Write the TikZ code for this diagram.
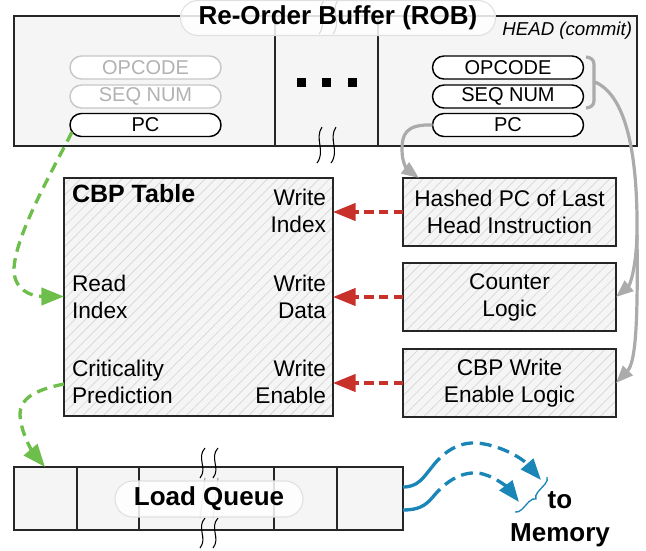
\documentclass[tikz,border=0pt]{standalone}
\usepackage{fontspec}
\setmainfont{Liberation Sans}
\usetikzlibrary{arrows.meta,patterns.meta,decorations.pathreplacing}
\definecolor{boxfill}{HTML}{F5F5F5}
\definecolor{hatchc}{HTML}{D6D6D6}
\definecolor{redc}{HTML}{C8302A}
\definecolor{greenc}{HTML}{6DBE4B}
\definecolor{bluec}{HTML}{1A86B8}
\definecolor{grayc}{HTML}{ABABAB}
\begin{document}
\begin{tikzpicture}[x=0.75pt,y=-0.75pt,
  every node/.style={inner sep=0pt, outer sep=0pt},
  frame/.style={draw=black!85, line width=1.1pt},
  hbox/.style={frame, preaction={fill=boxfill}, pattern={Lines[angle=45,distance=5.5pt,line width=0.5pt]}, pattern color=hatchc, rectangle, anchor=north west},
  field/.style={draw=black, line width=1.1pt, fill=white, rounded corners=8.6pt, minimum width=113.25pt, minimum height=17.25pt, font=\fontsize{15}{15}\selectfont},
  ghost/.style={field, draw=black!22, text=black!30},
  tag/.style={fill=white, fill opacity=0.85, text opacity=1, draw=black!12, line width=0.8pt, font=\bfseries\fontsize{19.5}{20}\selectfont},
  lbl/.style={font=\fontsize{17}{20.25}\selectfont},
  brk/.style={black, line width=0.8pt},
  redarr/.style={redc, line width=2.5pt, dash pattern=on 7pt off 4pt, -{Triangle[length=17pt,width=13pt]}},
  greenarr/.style={greenc, line width=2.5pt, dash pattern=on 8pt off 5pt, -{Triangle[length=17pt,width=13pt]}},
  grayarr/.style={grayc, line width=2.4pt, -{Triangle[length=13pt,width=10pt]}},
  bluesolid/.style={bluec, line width=2.5pt},
  bluearr/.style={bluec, line width=2.5pt, dash pattern=on 9pt off 5pt, -{Triangle[length=16pt,width=12pt]}}
]
\useasboundingbox (0,0) rectangle (646,550);

% ---------- ROB ----------
\node[frame, fill=boxfill, anchor=north west, minimum width=467.25pt, minimum height=97.5pt] (rob) at (14,16) {};
\draw[frame] (275,16) -- (275,146);
\draw[frame] (378,16) -- (378,146);
% break marks
\draw[brk] (322,127) .. controls (314,139) and (326,151) .. (317,163);
\draw[brk] (336,127) .. controls (328,139) and (340,151) .. (331,163);
\draw[brk] (324,0) .. controls (316,11) and (328,22) .. (319,34);
\draw[brk] (338,0) .. controls (330,11) and (342,22) .. (333,34);

\node[tag, minimum width=236.25pt, minimum height=26.25pt, rounded corners=13pt] (robt) at (338,18) {Re-Order Buffer (ROB)};
\node[anchor=east, font=\itshape\fontsize{14}{14}\selectfont] (head) at (632,31) {HEAD (commit)};

\node[ghost] (op1) at (145.5,67.5) {OPCODE};
\node[ghost] (sq1) at (145.5,96.5) {SEQ NUM};
\node[field] (pc1) at (145.5,125) {PC};
\node[field] (op2) at (508,67.5) {OPCODE};
\node[field] (sq2) at (508,96.5) {SEQ NUM};
\node[field] (pc2) at (508,125) {PC};

\fill (296.5,77.5) rectangle +(9,9);
\fill (321.5,77.5) rectangle +(9,9);
\fill (347.5,77.5) rectangle +(9,9);

% gray bracket
\draw[grayc, line width=2.4pt] (586,57) to[out=0,in=90] (594,64) -- (594,101) to[out=-90,in=0] (586,108);
\coordinate (bt) at (595,82);

% ---------- CBP table ----------
\node[hbox, minimum width=201.75pt, minimum height=178.5pt] (cbp) at (64,178) {};
\node[font=\bfseries\fontsize{18.75}{20}\selectfont, anchor=west] (cbpt) at (72,194) {CBP Table};
\node[lbl, align=right, anchor=east] (wi) at (326,211) {Write\\Index};
\node[lbl, align=left, anchor=west] (ri) at (72,296.5) {Read\\Index};
\node[lbl, align=right, anchor=east] (wd) at (326,296.5) {Write\\Data};
\node[lbl, align=left, anchor=west] (cp) at (72,381.5) {Criticality\\Prediction};
\node[lbl, align=right, anchor=east] (we) at (326,381.5) {Write\\Enable};

% ---------- right boxes ----------
\node[hbox, lbl, align=center, minimum width=159.75pt, minimum height=51pt] (hpc) at (403,178) {Hashed PC of Last\\Head Instruction};
\node[hbox, lbl, align=center, minimum width=159.75pt, minimum height=51pt] (cnt) at (403,263) {Counter\\Logic};
\node[hbox, lbl, align=center, minimum width=159.75pt, minimum height=51pt] (wel) at (403,349) {CBP Write\\Enable Logic};

\draw[redarr] (hpc.west) -- (cbp.east |- hpc.west);
\draw[redarr] (cnt.west) -- (cbp.east |- cnt.west);
\draw[redarr] (wel.west) -- (cbp.east |- wel.west);

% gray arrows
\coordinate (hpcin) at (419,178);
\draw[grayarr] (pc2.west) .. controls (405,124) and (402,135) .. (402,150) .. controls (402,164) and (408,170) .. (hpcin);
\coordinate (gsplit) at (637,235);
\draw[grayarr] (bt) .. controls (625,95) and (638,150) .. (gsplit) .. controls (636,268) and (630,285) .. (cnt.east);
\draw[grayarr] (gsplit) .. controls (638,320) and (636,362) .. (wel.east);

% ---------- Load queue ----------
\node[frame, fill=boxfill, anchor=north west, minimum width=291.75pt, minimum height=47.25pt] (lq) at (14,467) {};
\draw[frame] (77,467) -- (77,530);
\draw[frame] (139,467) -- (139,530);
\draw[frame] (274,467) -- (274,530);
\draw[frame] (337,467) -- (337,530);
\draw[brk] (205,448) .. controls (196,458) and (208,468) .. (200,478);
\draw[brk] (218,448) .. controls (209,458) and (221,468) .. (213,478);
\draw[brk, black!40] (205,478) -- (200,518);
\draw[brk, black!40] (218,478) -- (213,518);
\draw[brk] (205,518) .. controls (196,528) and (208,538) .. (200,548);
\draw[brk] (218,518) .. controls (209,528) and (221,538) .. (213,548);
\node[tag, minimum width=141pt, minimum height=27pt, rounded corners=13.5pt] (lqt) at (209,499) {Load Queue};

% green arrows
\coordinate (g1s) at (72,132);
\draw[greenarr] (g1s) .. controls (50,175) and (16,235) .. (14,268) .. controls (13,290) and (32,296.5) .. (cbp.west |- ri.west);
\coordinate (g2s) at (64,384);
\coordinate (g2e) at (45,467);
\draw[greenarr] (g2s) .. controls (35,390) and (20,398) .. (20,415) .. controls (21,435) and (35,455) .. (g2e);

% ---------- to memory ----------
\node[font=\bfseries\fontsize{19.5}{24.75}\selectfont, align=center] (mem) at (560,519) {to\\Memory};
\coordinate (b1s) at (403,487);
\coordinate (b1m) at (432,467);
\coordinate (b1e) at (541,480);
\coordinate (b2s) at (403,510);
\coordinate (b2m) at (432,498);
\coordinate (b2e) at (519,502);
\draw[bluesolid] (b1s) .. controls (418,487) and (423,478) .. (b1m);
\draw[bluearr] (b1m) .. controls (445,450) and (460,442) .. (477,443) .. controls (500,445) and (522,458) .. (b1e);
\draw[bluesolid] (b2s) .. controls (418,510) and (425,506) .. (b2m);
\draw[bluearr] (b2m) .. controls (445,482) and (460,472) .. (477,473) .. controls (492,474) and (508,488) .. (b2e);
\draw[bluec, line width=1pt, decorate, decoration={brace, amplitude=5pt}] (547,477) -- (515,512);
\end{tikzpicture}
\end{document}
